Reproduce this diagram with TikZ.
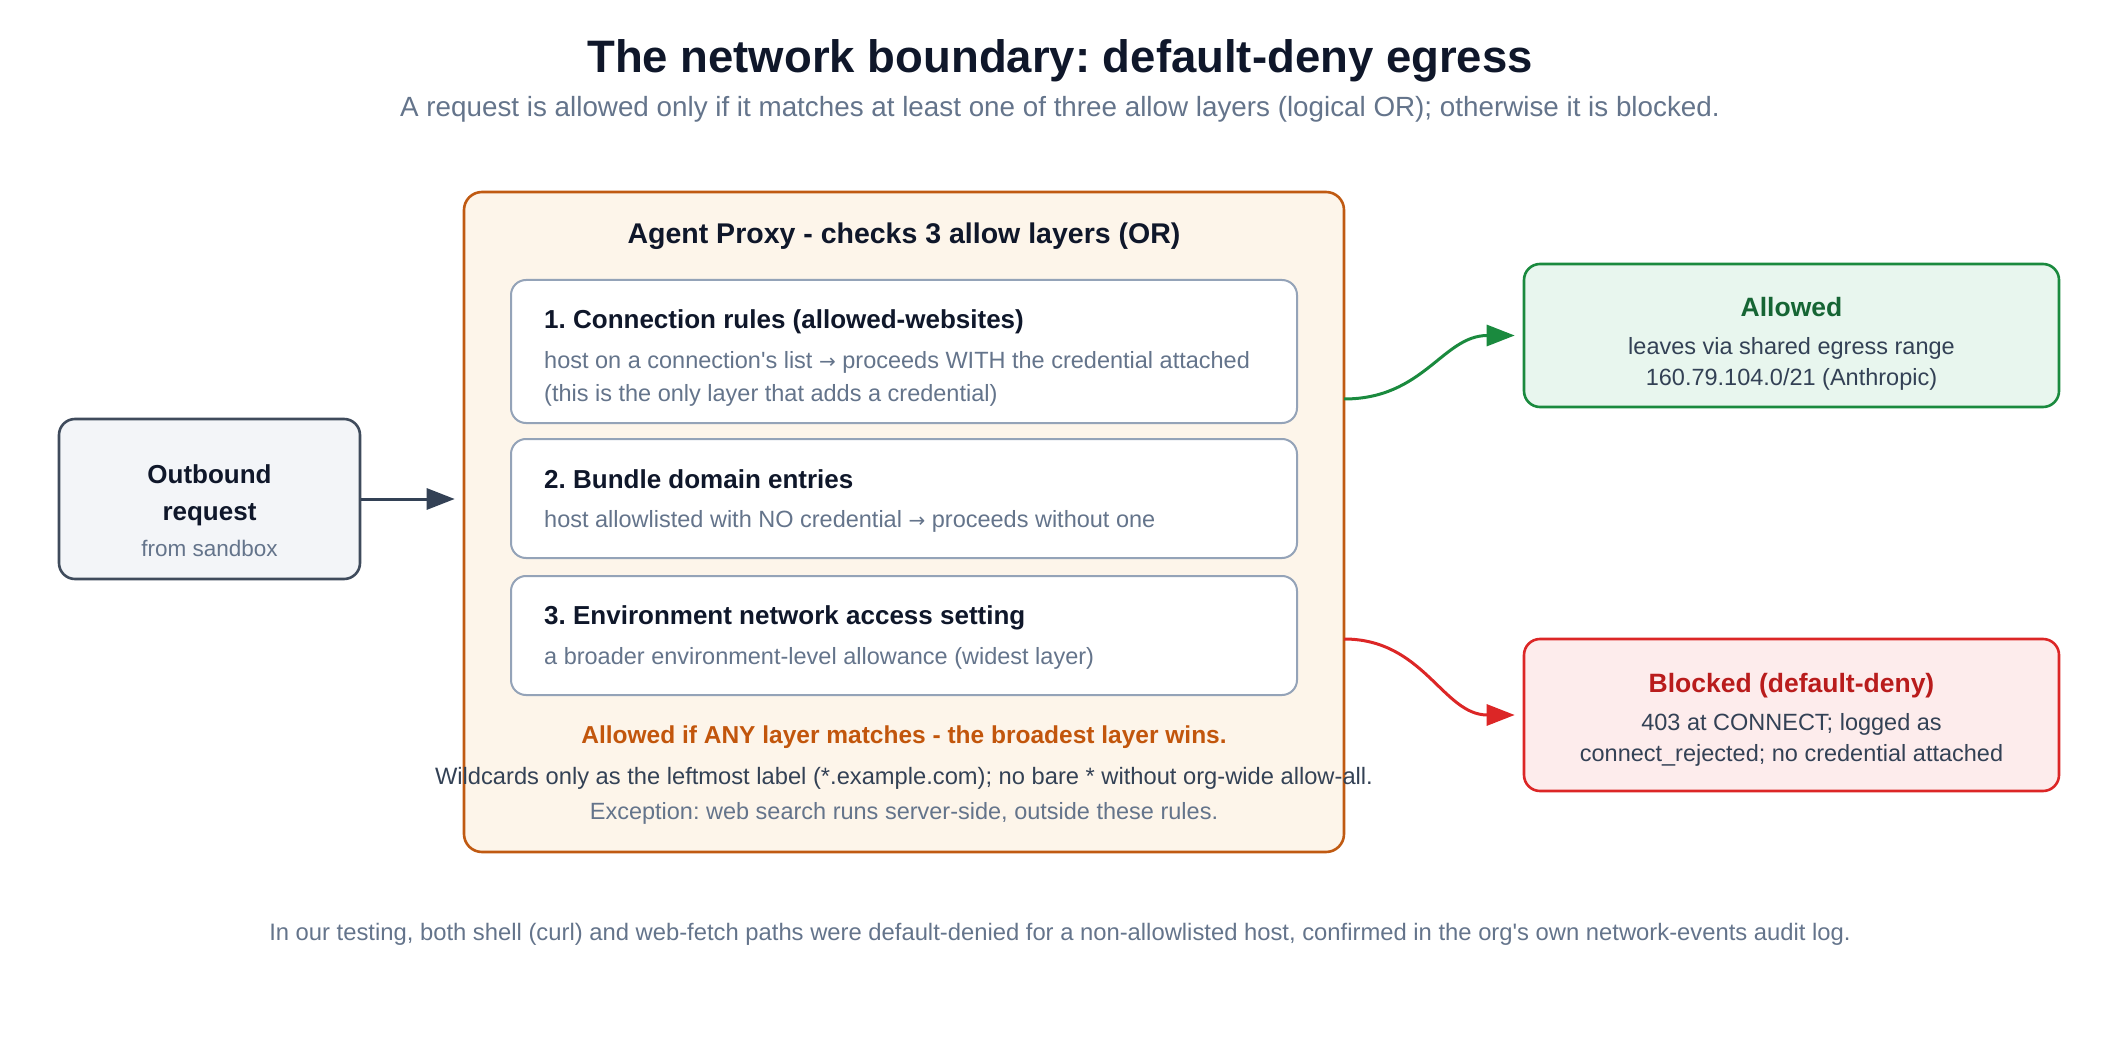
\documentclass[tikz,border=0pt]{standalone}
\usepackage{fontspec}
\setmainfont{Liberation Sans}
\newfontfamily\arrowfont{DejaVu Sans}
\usetikzlibrary{arrows.meta}
\definecolor{ink}{HTML}{0F172A}
\definecolor{greytxt}{HTML}{64748B}
\definecolor{darktxt}{HTML}{334155}
\definecolor{proxyline}{HTML}{C05A12}
\definecolor{proxyfill}{HTML}{FDF5EA}
\definecolor{layerline}{HTML}{94A3B8}
\definecolor{outfill}{HTML}{F3F5F8}
\definecolor{outline}{HTML}{3F4B5C}
\definecolor{okline}{HTML}{1A8A3E}
\definecolor{okfill}{HTML}{E8F6EE}
\definecolor{oktxt}{HTML}{166534}
\definecolor{noline}{HTML}{DC2626}
\definecolor{nofill}{HTML}{FDECEC}
\definecolor{notxt}{HTML}{B91C1C}
\definecolor{orangetxt}{HTML}{C2560C}
\newcommand{\fsz}[1]{\fontsize{#1}{#1}\selectfont}
\newcommand{\sq}{\XeTeXglyph\XeTeXcharglyph"27\relax}
\newcommand{\rarr}{{\arrowfont\scalebox{0.85}{→}}}
\frenchspacing
\begin{document}
\begin{tikzpicture}[x=1pt,y=-1pt,
  box/.style={rounded corners=16pt, line width=2.6pt, inner sep=0pt},
  layerbox/.style={draw=layerline, fill=white, rounded corners=15pt, line width=2pt, inner sep=0pt, minimum width=786pt},
  txt/.style={inner sep=0pt, anchor=mid},
  ltxt/.style={inner sep=0pt, anchor=mid west},
  ttl/.style={font=\bfseries\fsz{26}, text=ink},
  desc/.style={font=\fsz{23.5}, text=greytxt},
  arr/.style={line width=3pt, -{Triangle[length=28pt,width=21pt]}}
]
\useasboundingbox (0,0) rectangle (2120,1040);

% title
\node[txt, font=\bfseries\fsz{45.5}, text=ink] (title) at (1060,70) {The network boundary: default-deny egress};
\node[txt, font=\fsz{27.8}, text=greytxt] (sub) at (1060,114) {A request is allowed only if it matches at least one of three allow layers (logical OR); otherwise it is blocked.};

% outbound
\node[box, draw=outline, fill=outfill, minimum width=301pt, minimum height=160pt] (out) at (209.5,499) {};
\node[txt, font=\bfseries\fsz{26}, text=ink] (o1) at (209.5,481) {Outbound};
\node[txt, font=\bfseries\fsz{26}, text=ink] (o2) at (209.5,518) {request};
\node[txt, font=\fsz{22.5}, text=greytxt] (o3) at (209.5,554) {from sandbox};

% proxy
\node[box, draw=proxyline, fill=proxyfill, rounded corners=18pt, minimum width=880pt, minimum height=660pt] (proxy) at (904,522) {};
\node[txt, font=\bfseries\fsz{28.5}, text=ink] (ptitle) at (904,241) {Agent Proxy - checks 3 allow layers (OR)};

\node[layerbox, minimum height=143pt] (l1) at (904,351.5) {};
\node[layerbox, minimum height=119pt] (l2) at (904,498.5) {};
\node[layerbox, minimum height=119pt] (l3) at (904,635.5) {};

\node[ltxt, ttl] (l1t) at (544,326) {1. Connection rules (allowed-websites)};
\node[ltxt, desc] (l1a) at (544,366) {host on a connection\sq s list \rarr{} proceeds WITH the credential attached};
\node[ltxt, desc] (l1b) at (544,399) {(this is the only layer that adds a credential)};
\node[ltxt, ttl] (l2t) at (544,486) {2. Bundle domain entries};
\node[ltxt, desc] (l2a) at (544,525) {host allowlisted with NO credential \rarr{} proceeds without one};
\node[ltxt, ttl] (l3t) at (544,622) {3. Environment network access setting};
\node[ltxt, desc] (l3a) at (544,662) {a broader environment-level allowance (widest layer)};

\node[txt, font=\bfseries\fsz{24.5}, text=orangetxt] (p1) at (904,741) {Allowed if ANY layer matches - the broadest layer wins.};
\node[txt, font=\fsz{23.7}, text=darktxt] (p2) at (904,782) {Wildcards only as the leftmost label (*.example.com); no bare * without org-wide allow-all.};
\node[txt, font=\fsz{23.5}, text=greytxt] (p3) at (904,817) {Exception: web search runs server-side, outside these rules.};

% allowed
\node[box, draw=okline, fill=okfill, minimum width=535pt, minimum height=143pt] (ok) at (1791.5,335.5) {};
\node[txt, font=\bfseries\fsz{26.5}, text=oktxt] (okt) at (1791.5,314) {Allowed};
\node[txt, font=\fsz{23.5}, text=darktxt] (ok1) at (1791.5,352) {leaves via shared egress range};
\node[txt, font=\fsz{23.5}, text=darktxt] (ok2) at (1791.5,383) {160.79.104.0/21 (Anthropic)};

% blocked
\node[box, draw=noline, fill=nofill, minimum width=535pt, minimum height=152pt] (no) at (1791.5,715) {};
\node[txt, font=\bfseries\fsz{26.5}, text=notxt] (not) at (1791.5,690) {Blocked (default-deny)};
\node[txt, font=\fsz{23.5}, text=darktxt] (no1) at (1791.5,728) {403 at CONNECT; logged as};
\node[txt, font=\fsz{23.5}, text=darktxt] (no2) at (1791.5,759) {connect\_rejected; no credential attached};

% footer
\node[txt, font=\fsz{23.8}, text=greytxt] (foot) at (1060,938) {In our testing, both shell (curl) and web-fetch paths were default-denied for a non-allowlisted host, confirmed in the org\sq s own network-events audit log.};

% connectors
\draw[arr, draw=darktxt, shorten >=8pt] (out.east) -- (out.east -| proxy.west);
\coordinate (gs) at (1344,399);
\coordinate (rs) at (1344,639);
\draw[arr, draw=okline, shorten >=8pt] (gs) .. controls +(80,0) and +(-80,0) .. (ok.west);
\draw[arr, draw=noline, shorten >=8pt] (rs) .. controls +(80,0) and +(-80,0) .. (no.west);
\end{tikzpicture}
\end{document}
